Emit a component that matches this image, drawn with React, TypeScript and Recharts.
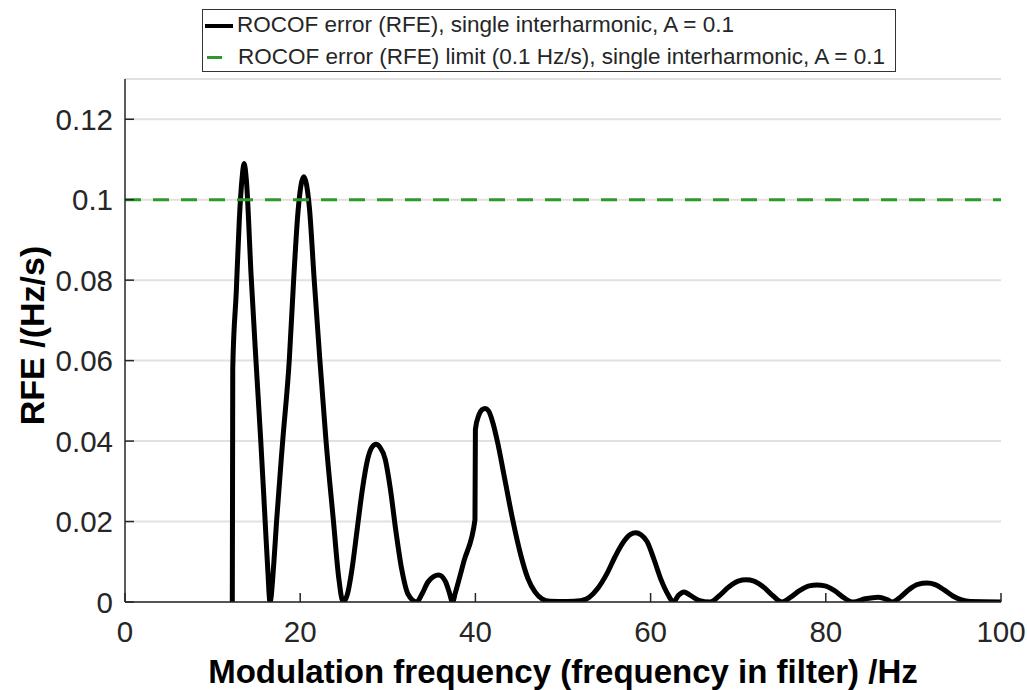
import React from 'react';
import { LineChart, Line, XAxis, YAxis, CartesianGrid, Label } from 'recharts';

// modulation frequency (Hz) and ROCOF error (Hz/s), single interharmonic, A = 0.1
const freq = [
  12.25, 12.3, 12.7, 13.05, 13.35, 13.6, 13.85, 14.4, 14.95, 15.5, 16.0, 16.3, 16.55,
  17.0, 17.3, 18.0, 18.75, 19.25, 19.75, 20.4, 21.05, 21.6, 22.25, 22.95, 23.8, 24.4, 24.9,
  25.4, 25.9, 26.5, 27.1, 27.7, 28.2, 28.65, 29.1, 29.7, 30.3, 30.9, 31.6, 32.3, 33.3,
  33.9, 34.6, 35.8, 36.6, 37.0, 37.4,
  37.7, 38.7, 39.95, 40.0, 40.4, 40.75, 41.1, 41.5, 42.0, 42.5, 43.4, 44.3, 45.2, 46.0, 46.8, 47.6, 48.5, 50.5,
  52.0, 53.0, 54.0, 55.0, 56.0, 57.0, 57.7, 58.3, 58.9, 59.6, 60.4, 61.2, 62.0, 62.6,
  63.2, 63.8, 64.5, 65.5, 66.8,
  67.8, 68.9, 70.0, 70.9, 71.8, 72.9, 74.0, 75.0,
  76.0, 77.0, 78.1, 79.0, 79.9, 81.0, 82.1, 83.1,
  84.5, 86.0, 87.0, 87.6,
  88.5, 89.5, 90.5, 91.55, 92.5, 93.5, 94.5, 95.5, 96.5, 100,
];
const rfe = [
  0, 0.058, 0.077, 0.095, 0.105, 0.109, 0.105, 0.081, 0.06, 0.04, 0.02, 0.008, 0,
  0.01, 0.02, 0.04, 0.06, 0.08, 0.097, 0.1057, 0.098, 0.08, 0.06, 0.04, 0.02, 0.006, 0,
  0.002, 0.008, 0.018, 0.028, 0.0355, 0.0385, 0.0392, 0.0385, 0.0355, 0.028, 0.018, 0.008, 0.002, 0,
  0.002, 0.005, 0.0067, 0.005, 0.0025, 0,
  0.0022, 0.0102, 0.0204, 0.0429, 0.0465, 0.0478, 0.0481, 0.0475, 0.0445, 0.04, 0.03, 0.02, 0.0115, 0.0058, 0.0025, 0.0008, 0.0002, 0.0001,
  0.0003, 0.0012, 0.0035, 0.007, 0.0115, 0.0152, 0.0168, 0.0172, 0.0167, 0.015, 0.0105, 0.0055, 0.0018, 0,
  0.0017, 0.0025, 0.0017, 0.0004, 0,
  0.0015, 0.0037, 0.0052, 0.0055, 0.0052, 0.0037, 0.0015, 0,
  0.0012, 0.0028, 0.004, 0.0042, 0.004, 0.0028, 0.001, 0,
  0.0008, 0.0012, 0.0006, 0,
  0.0012, 0.0031, 0.0044, 0.0047, 0.0043, 0.003, 0.0015, 0.0005, 0.0001, 0,
];

// RFE limit
const limitFreq = [0, 100];
const limitValue = 0.1;

const xTicks = [0, 20, 40, 60, 80, 100];
const yTicks = [0, 0.02, 0.04, 0.06, 0.08, 0.1, 0.12];

const seriesNames = [
  'ROCOF error (RFE), single interharmonic, A = 0.1',
  'ROCOF error (RFE) limit (0.1 Hz/s), single interharmonic, A = 0.1',
];

const rfeData = freq.map((f, i) => ({ f, rfe: rfe[i] }));
const limitData = limitFreq.map((f) => ({ f, limit: limitValue }));

const FONT = '"Liberation Sans", Arial, Helvetica, sans-serif';
const AXIS = '#262626';
const GREEN = '#2b9a2b';
const TICK_LEN = 9;

const BottomTick = ({ x, y, payload }: any) => (
  <g>
    <line x1={x} y1={y} x2={x} y2={y - TICK_LEN} stroke={AXIS} strokeWidth={1.5} />
    <text x={x} y={y + 40} textAnchor="middle" fontSize={29.5} fontFamily={FONT} fill={AXIS}>
      {payload.value}
    </text>
  </g>
);

const LeftTick = ({ x, y, payload }: any) => (
  <g>
    <line x1={x} y1={y} x2={x + TICK_LEN} y2={y} stroke={AXIS} strokeWidth={1.5} />
    <text x={x - 12} y={y + 10.5} textAnchor="end" fontSize={29.5} fontFamily={FONT} fill={AXIS}>
      {payload.value}
    </text>
  </g>
);

const TopTick = ({ x, y }: any) => (
  <line x1={x} y1={y} x2={x} y2={y + TICK_LEN} stroke={AXIS} strokeWidth={1.5} />
);

const RightTick = ({ x, y }: any) => (
  <line x1={x} y1={y} x2={x - TICK_LEN} y2={y} stroke={AXIS} strokeWidth={1.5} />
);

function Legend() {
  return (
    <div
      style={{
        position: 'absolute',
        left: 202,
        top: 9,
        width: 692,
        height: 61,
        border: '1.5px solid #333',
        background: '#fff',
        fontFamily: FONT,
        fontSize: 22.5,
        color: '#262626',
      }}
    >
      <div style={{ position: 'absolute', left: 2, top: 14, width: 28, height: 4, background: '#000' }} />
      <div style={{ position: 'absolute', left: 34, top: 2, lineHeight: '26px', whiteSpace: 'nowrap' }}>
        {seriesNames[0]}
      </div>
      <div style={{ position: 'absolute', left: 4, top: 46, width: 15, height: 3, background: GREEN }} />
      <div style={{ position: 'absolute', left: 35, top: 34, lineHeight: '26px', whiteSpace: 'nowrap' }}>
        {seriesNames[1]}
      </div>
    </div>
  );
}

export default function App() {
  return (
    <div style={{ position: 'absolute', left: 0, top: 0, width: 1027, height: 690, background: '#fff' }}>
      <LineChart
        width={1027}
        height={690}
        margin={{ top: 79, right: 26, bottom: 8, left: 25 }}
      >
        <CartesianGrid horizontal vertical={false} stroke="#e1e1e1" strokeWidth={2} xAxisId="bottom" yAxisId="left" />
        <XAxis
          xAxisId="bottom"
          dataKey="f"
          type="number"
          domain={[0, 100]}
          ticks={xTicks}
          allowDataOverflow
          height={80}
          tickSize={0}
          tickMargin={0}
          tickLine={false}
          tick={<BottomTick />}
          axisLine={{ stroke: AXIS, strokeWidth: 1.5 }}
        >
          <Label
            content={({ viewBox }: any) => (
              <text
                x={viewBox.x + viewBox.width / 2}
                y={viewBox.y + 81}
                textAnchor="middle"
                fontSize={33}
                fontWeight="bold"
                fontFamily={FONT}
                fill="#000"
              >
                Modulation frequency (frequency in filter) /Hz
              </text>
            )}
          />
        </XAxis>
        <XAxis
          xAxisId="top"
          orientation="top"
          dataKey="f"
          type="number"
          domain={[0, 100]}
          ticks={xTicks}
          allowDataOverflow
          height={0}
          tickSize={0}
          tickMargin={0}
          tickLine={false}
          tick={<TopTick />}
          axisLine={{ stroke: AXIS, strokeWidth: 1.5 }}
        />
        <YAxis
          yAxisId="left"
          type="number"
          domain={[0, 0.13]}
          ticks={yTicks}
          allowDataOverflow
          width={100}
          tickSize={0}
          tickMargin={0}
          tickLine={false}
          tick={<LeftTick />}
          axisLine={{ stroke: AXIS, strokeWidth: 1.5 }}
        >
          <Label
            content={({ viewBox }: any) => {
              const cx = viewBox.x + 19;
              const cy = viewBox.y + viewBox.height / 2 - 5;
              return (
                <text
                  x={cx}
                  y={cy}
                  transform={`rotate(-90, ${cx}, ${cy})`}
                  textAnchor="middle"
                  fontSize={34}
                  fontWeight="bold"
                  fontFamily={FONT}
                  fill="#000"
                >
                  RFE /(Hz/s)
                </text>
              );
            }}
          />
        </YAxis>
        <YAxis
          yAxisId="right"
          orientation="right"
          type="number"
          domain={[0, 0.13]}
          ticks={yTicks}
          allowDataOverflow
          width={0}
          tickSize={0}
          tickMargin={0}
          tickLine={false}
          tick={<RightTick />}
          axisLine={{ stroke: AXIS, strokeWidth: 1.5 }}
        />
        <Line
          xAxisId="bottom"
          yAxisId="left"
          data={rfeData}
          dataKey="rfe"
          type="monotone"
          stroke="#000"
          strokeWidth={5}
          dot={false}
          isAnimationActive={false}
        />
        <Line
          xAxisId="bottom"
          yAxisId="left"
          data={limitData}
          dataKey="limit"
          type="linear"
          stroke={GREEN}
          strokeWidth={3}
          strokeDasharray="16 12"
          dot={false}
          isAnimationActive={false}
        />
      </LineChart>
      <Legend />
    </div>
  );
}
